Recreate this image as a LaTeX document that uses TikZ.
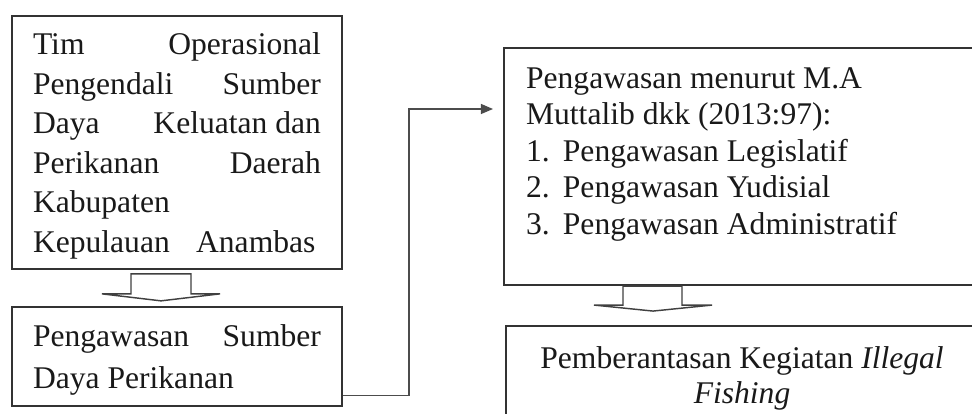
\documentclass[tikz,border=0pt]{standalone}
\usepackage{fontspec}
\setmainfont{Liberation Serif}
\usetikzlibrary{positioning, arrows.meta}
\tikzset{
    x=0.38pt, y=-0.38pt, % one unit is one pixel of the frame, y runs down
    box/.style={draw=black!80, line width=0.75pt, inner xsep=8.4pt, anchor=north west, text=black!90}, % the text boxes
    link/.style={draw=black!70, line width=0.5pt, -{Triangle[length=4.6pt,width=3.8pt]}}, % the line from left to right
    hollow/.style={draw=black!75, line width=0.55pt, fill=white}, % the wide flat arrows
}

\begin{document}
\begin{tikzpicture}
    \useasboundingbox (0,0) rectangle (972,414);
    \clip (0,0) rectangle (972,414);
    \node[box, inner xsep=8pt, inner ysep=4.3pt, font=\fontsize{12pt}{15pt}\selectfont] (tim) at (11,15)
        {\parbox[t][87.5pt][t]{109.4pt}{\strut Tim\hfill Operasional\\ Pengendali\hfill Sumber\\ Daya\hfill Keluatan dan\\ Perikanan\hfill Daerah\\ Kabupaten\\ Kepulauan\hspace{10pt}Anambas}};
    \node[box, inner xsep=8pt, inner ysep=4.3pt, font=\fontsize{12pt}{15.6pt}\selectfont, below=13.7pt of tim.south west, anchor=north west] (sdp)
        {\parbox[t][29pt][t]{109.4pt}{\strut Pengawasan\hfill Sumber\\ Daya Perikanan}};
    \node[box, inner ysep=5.5pt, font=\fontsize{12pt}{13.9pt}\selectfont] (legal) at (503,47)
        {\parbox[t][79.1pt][t]{166.2pt}{\strut Pengawasan menurut M.A\\ Muttalib dkk (2013:97):\\ \makebox[14pt][l]{1.}Pengawasan Legislatif\\ \makebox[14pt][l]{2.}Pengawasan Yudisial\\ \makebox[14pt][l]{3.}Pengawasan Administratif}};
    \node[box, inner ysep=6.7pt, font=\fontsize{12pt}{13.3pt}\selectfont, below=14.8pt of legal.south west, anchor=north west, xshift=0.76pt] (fishing)
        {\parbox[t][28.4pt][t]{162.6pt}{\centering\strut Pemberantasan Kegiatan \textit{Illegal}\\ \textit{Fishing}}};
    % flat arrows
    \draw[hollow] ([shift={(120,4)}]tim.south west) -- ++(60,0) -- ++(0,20) -- ++(29,0) -- ++(-59,7) -- ++(-59,-7) -- ++(29,0) -- cycle;
    \draw[hollow] ([shift={(120,0)}]legal.south west) -- ++(59,0) -- ++(0,19) -- ++(30,0) -- ++(-59,6) -- ++(-59,-6) -- ++(29,0) -- cycle;
    \draw[link] ([shift={(0,-11)}]sdp.south east) -- ++(66,0) |- ([shift={(-10,62)}]legal.north west);
\end{tikzpicture}
\end{document}
